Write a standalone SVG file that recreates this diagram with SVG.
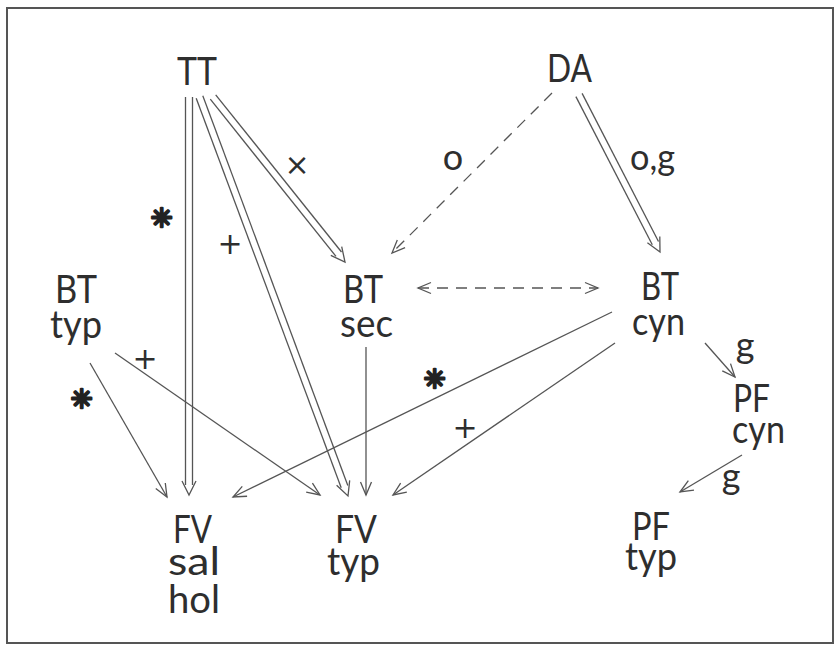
<svg xmlns="http://www.w3.org/2000/svg" width="838" height="649" viewBox="0 0 838 649">
<defs>
<style>
text{font-family:"Lato","DejaVu Sans","Liberation Sans",sans-serif;fill:#2e2e2e;}
.lbl{font-size:38px;text-anchor:middle;font-weight:400;}
.sym{font-size:36px;text-anchor:middle;font-weight:400;}
.mark{font-size:30px;text-anchor:middle;font-family:"DejaVu Sans",sans-serif;}
.ast{font-size:26px;text-anchor:middle;font-family:"DejaVu Sans",sans-serif;fill:#222;stroke:#222;stroke-width:2.6;stroke-linejoin:round;}
.ln{fill:none;stroke:#555;stroke-width:1.3;}
.dash{stroke-dasharray:11,8;}
.arr{marker-end:url(#ah);}
</style>
<marker id="ah" markerUnits="userSpaceOnUse" markerWidth="20" markerHeight="20" refX="14" refY="6" orient="auto-start-reverse" viewBox="0 0 20 12">
<polyline points="1,0.5 14,6 1,11.5" fill="none" stroke="#555" stroke-width="1.3"/>
</marker>
</defs>
<rect x="7" y="8" width="826" height="635" fill="#fff" stroke="#555" stroke-width="2"/>

<g id="TT"><text class="lbl" x="197" y="85" textLength="40" lengthAdjust="spacingAndGlyphs">TT</text></g>
<g id="DA"><text class="lbl" x="569.5" y="82" textLength="45" lengthAdjust="spacingAndGlyphs">DA</text></g>
<g id="BTtyp"><text class="lbl" x="76" y="303" textLength="42" lengthAdjust="spacingAndGlyphs">BT</text><text class="lbl" x="76" y="338" textLength="52" lengthAdjust="spacingAndGlyphs">typ</text></g>
<g id="BTsec"><text class="lbl" x="363" y="303" textLength="40" lengthAdjust="spacingAndGlyphs">BT</text><text class="lbl" x="366.5" y="337" textLength="53" lengthAdjust="spacingAndGlyphs">sec</text></g>
<g id="BTcyn"><text class="lbl" x="660" y="300" textLength="38" lengthAdjust="spacingAndGlyphs">BT</text><text class="lbl" x="658.5" y="335" textLength="53" lengthAdjust="spacingAndGlyphs">cyn</text></g>
<g id="PFcyn"><text class="lbl" x="751.5" y="412" textLength="37" lengthAdjust="spacingAndGlyphs">PF</text><text class="lbl" x="758.5" y="443" textLength="53" lengthAdjust="spacingAndGlyphs">cyn</text></g>
<g id="FVsalhol"><text class="lbl" x="192.5" y="543" textLength="39" lengthAdjust="spacingAndGlyphs">FV</text><text class="lbl" x="194" y="575" textLength="52" lengthAdjust="spacingAndGlyphs">sal</text><text class="lbl" x="194" y="613" textLength="52" lengthAdjust="spacingAndGlyphs">hol</text></g>
<g id="FVtyp"><text class="lbl" x="356" y="543" textLength="42" lengthAdjust="spacingAndGlyphs">FV</text><text class="lbl" x="353.5" y="575" textLength="53" lengthAdjust="spacingAndGlyphs">typ</text></g>
<g id="PFtyp"><text class="lbl" x="651" y="540" textLength="38" lengthAdjust="spacingAndGlyphs">PF</text><text class="lbl" x="651" y="570" textLength="52" lengthAdjust="spacingAndGlyphs">typ</text></g>

<g id="connectors">
<g class="ln">
<line x1="185.5" y1="97" x2="185.5" y2="485"/><line x1="192.5" y1="97" x2="192.5" y2="485"/>
<polyline points="182,481 189,495 196,481"/>
<line x1="196.2" y1="98.2" x2="341.2" y2="487.8"/><line x1="202.8" y1="95.8" x2="347.8" y2="485.4"/>
<polyline points="336.6,485.3 348,496 349.7,480.4"/>
<line x1="210.3" y1="99.2" x2="336" y2="256.4"/><line x1="215.7" y1="94.8" x2="341.5" y2="252"/>
<polyline points="330.8,255.4 345,262 341.7,246.7"/>
<line x1="575.9" y1="96.6" x2="652.3" y2="244.7"/><line x1="582.1" y1="93.4" x2="658.5" y2="241.5"/>
<polyline points="647.4,242.8 660,252 659.8,236.4"/>
</g>
<line class="ln dash arr" x1="552" y1="93" x2="392" y2="253"/>
<line class="ln dash arr" x1="418" y1="288" x2="598" y2="288" style="marker-start:url(#ah)"/>
<line class="ln arr" x1="366" y1="347" x2="366" y2="495"/>
<line class="ln arr" x1="90" y1="363" x2="167" y2="497"/>
<line class="ln arr" x1="115" y1="353" x2="320" y2="495"/>
<line class="ln arr" x1="612" y1="312" x2="233" y2="497"/>
<line class="ln arr" x1="615" y1="343" x2="393" y2="495"/>
<line class="ln arr" x1="705" y1="343" x2="735" y2="377"/>
<line class="ln arr" x1="742" y1="455" x2="680" y2="492"/>
</g>

<g id="labels">
<text class="mark" x="297" y="175">×</text>
<text class="ast" x="162" y="227">✳</text>
<text class="ast" x="82" y="408">✳</text>
<text class="ast" x="435" y="388">✳</text>
<text class="mark" x="230" y="254">+</text>
<text class="mark" x="145" y="369">+</text>
<text class="mark" x="465" y="438">+</text>
<text class="sym" x="453" y="170">o</text>
<text class="sym" x="652.5" y="170" textLength="45" lengthAdjust="spacingAndGlyphs">o,g</text>
<text class="sym" x="745" y="358">g</text>
<text class="sym" x="731" y="489">g</text>
</g>
</svg>
